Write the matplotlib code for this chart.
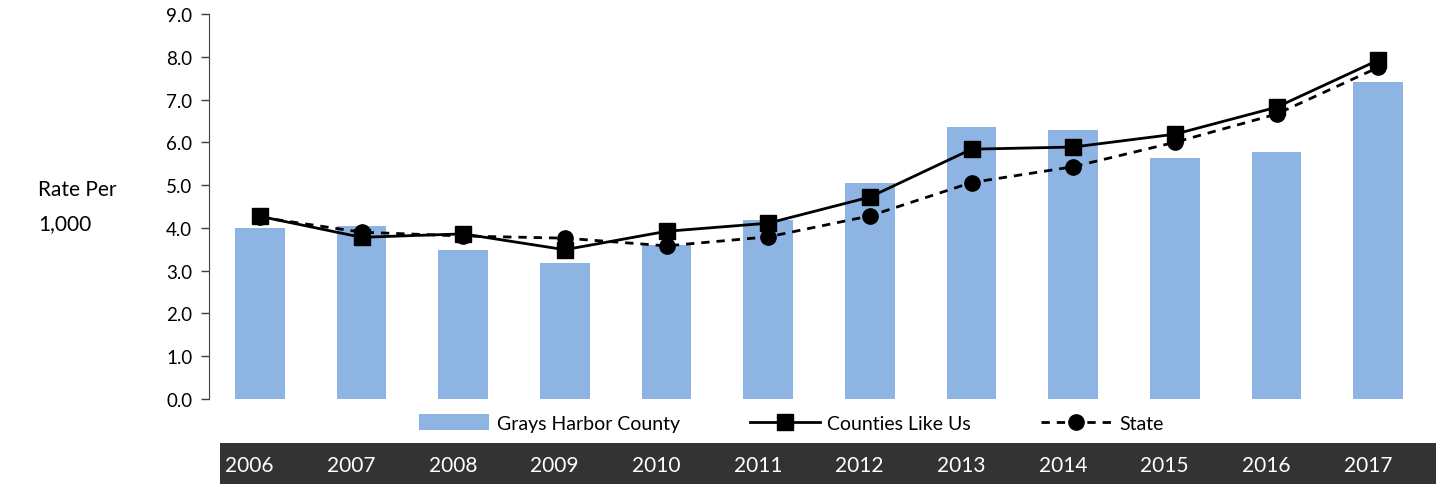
import matplotlib.pyplot as plt
import numpy as np
from matplotlib.transforms import blended_transform_factory

plt.rcParams['font.family'] = ['Lato', 'DejaVu Sans']

years = ['2006', '2007', '2008', '2009', '2010', '2011',
         '2012', '2013', '2014', '2015', '2016', '2017']
grays_harbor = [4.00, 4.04, 3.49, 3.19, 3.61, 4.18, 5.06, 6.37, 6.30, 5.63, 5.77, 7.42]
counties_like_us = [4.27, 3.78, 3.86, 3.49, 3.92, 4.11, 4.72, 5.84, 5.89, 6.19, 6.82, 7.92]
state = [4.25, 3.90, 3.81, 3.76, 3.58, 3.79, 4.28, 5.06, 5.43, 6.00, 6.66, 7.75]
yticks = np.arange(0, 9.5, 1.0)

W, H = 1440, 485
fig = plt.figure(figsize=(W / 100, H / 100), dpi=100)
ax = fig.add_axes([209 / W, 1 - 400 / H, (1429 - 209) / W, (400 - 15) / H])

x = np.arange(len(years))
bars = ax.bar(x, grays_harbor, width=0.49, color='#8EB4E3',
              label='Grays Harbor County', zorder=1)
l1, = ax.plot(x, counties_like_us, color='black', lw=2, marker='s', ms=11,
              label='Counties Like Us', zorder=3)
l2, = ax.plot(x, state, color='black', lw=2, ls=(0, (3, 2.5)), marker='o', ms=11,
              label='State', zorder=2)

ax.set_xlim(-0.5, len(years) - 0.5)
ax.set_ylim(0, 9)
ax.set_yticks(yticks)
ax.set_yticklabels([f'{v:.1f}' for v in yticks], fontsize=13.5)
ax.set_xticks([])
for side in ['top', 'right', 'bottom']:
    ax.spines[side].set_visible(False)
ax.spines['left'].set_color('#404040')
ax.tick_params(axis='y', length=6, width=1, color='#404040', pad=6)

fig.text(38 / W, 1 - 190 / H, 'Rate Per', fontsize=15, va='center', ha='left')
fig.text(38 / W, 1 - 224 / H, '1,000', fontsize=15, va='center', ha='left')

fig.legend([bars, l1, l2], ['Grays Harbor County', 'Counties Like Us', 'State'],
           loc='center', bbox_to_anchor=(791 / W, 1 - 424 / H), ncol=3,
           frameon=False, fontsize=14, handlelength=3.6, handleheight=0.9,
           columnspacing=3.6, handletextpad=0.4)

# dark band with the year labels
band = fig.add_axes([220 / W, 0, (1436 - 220) / W, 41 / H])
band.set_facecolor('#333333')
band.set_xticks([])
band.set_yticks([])
for s in band.spines.values():
    s.set_visible(False)
trans = blended_transform_factory(ax.transData, band.transAxes)
for i, yr in enumerate(years):
    fig.text(i - 0.1, 0.47, yr, transform=trans, color='white', fontsize=15,
             ha='center', va='center')

fig.savefig('out.png', dpi=100)
